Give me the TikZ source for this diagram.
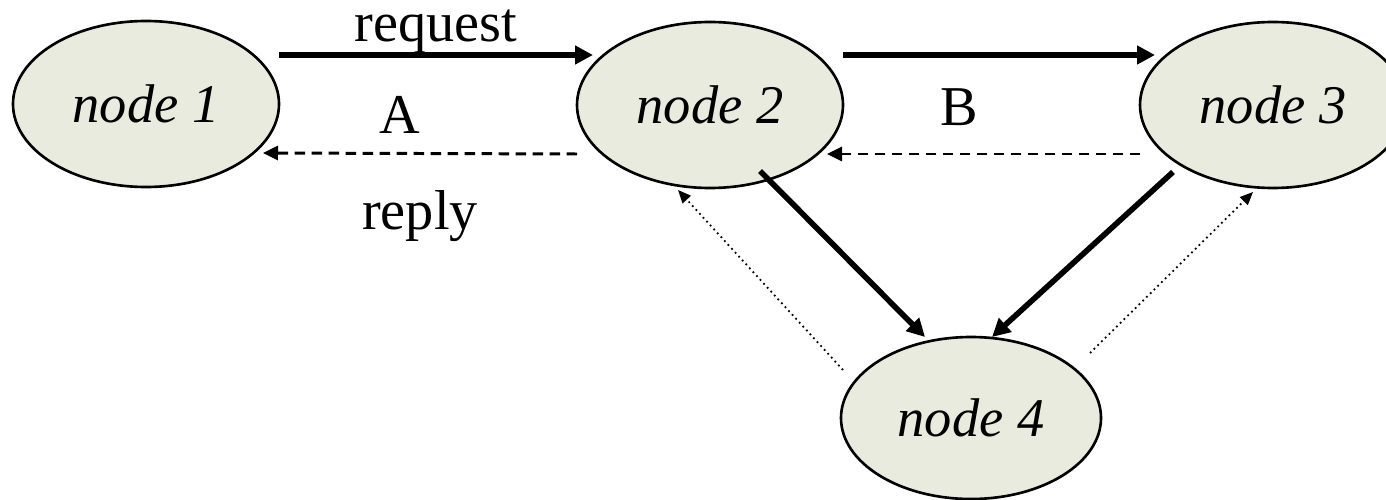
\documentclass[tikz,border=0pt]{standalone}
\usepackage{fontspec}
\setmainfont{Liberation Serif}
\usepackage{tikz}
\usetikzlibrary{arrows.meta,shapes.geometric}
\definecolor{NDFill}{HTML}{EAEBDF}

\tikzset{
  ndell/.style={ellipse,draw=black,line width=0.75pt,fill=NDFill,inner sep=0pt,outer sep=0pt,
    minimum width=2.66cm,minimum height=1.66cm,font=\fontsize{15.5}{18}\selectfont\itshape},
  thkarr/.style={line width=1.6pt,-{Triangle[length=1.8mm,width=1.8mm]}},
  dsharr/.style={line width=0.85pt,dash pattern=on 1.05mm off 0.65mm,-{Triangle[length=1.5mm,width=1.4mm]}},
  dotarr/.style={line width=0.5pt,dash pattern=on 0.5pt off 1pt,-{Triangle[length=1.3mm,width=1.1mm]}},
  lbl/.style={font=\fontsize{16}{19}\selectfont,inner sep=0pt,anchor=base}
}

\begin{document}
\begin{tikzpicture}[x=1cm,y=1cm]
\path[use as bounding box] (0,0) rectangle (13.86,4.99);
\node[ndell] (n1) at (1.46,3.95) {node 1};
\node[ndell] (n2) at (7.10,3.94) {node 2};
\node[ndell] (n3) at (12.73,3.94) {node 3};
\node[ndell,minimum width=2.60cm,minimum height=1.62cm] (n4) at (9.71,0.81) {node 4};
\draw[thkarr] ([yshift=4.9mm]n1.east) -- ([xshift=1.6mm,yshift=5mm]n2.west)
  node[lbl,midway,yshift=1.3mm] (rq) {request};
\draw[dsharr] ([yshift=-4.9mm]n2.west) -- ([xshift=-1.6mm,yshift=-4.9mm]n1.east)
  node[lbl,midway,yshift=-7.6mm] (rp) {reply};
\node[lbl] (la) at (4.00,3.66) {A};
\draw[thkarr] ([yshift=5mm]n2.east) -- ([xshift=1.5mm,yshift=5mm]n3.west);
\draw[dsharr] ([yshift=-4.9mm]n3.west) -- ([xshift=-1.6mm,yshift=-4.9mm]n2.east);
\node[lbl] (lb) at (9.59,3.74) {B};
\draw[thkarr] ([xshift=5mm,yshift=1.7mm]n2.south) -- ([xshift=-4.6mm]n4.north);
\draw[thkarr] ([xshift=-10mm,yshift=1.6mm]n3.south) -- ([xshift=2.1mm]n4.north);
\draw[dotarr] ([xshift=0.2mm,yshift=4.8mm]n4.west) -- ([xshift=-3.2mm,yshift=-0.2mm]n2.south);
\draw[dotarr] ([xshift=-1.1mm,yshift=6.5mm]n4.east) -- ([xshift=-2mm,yshift=-0.4mm]n3.south);
\end{tikzpicture}
\end{document}
